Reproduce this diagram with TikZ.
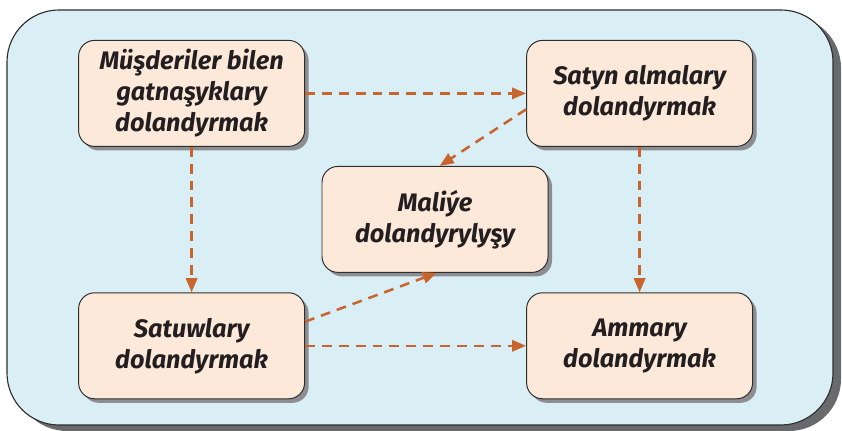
\documentclass[tikz,border=0pt]{standalone}
\usepackage{fontspec}
\setmainfont{Fira Sans}
\usetikzlibrary{arrows.meta,positioning,shadows}
\definecolor{panelblue}{HTML}{DAEFF5}
\definecolor{boxpeach}{HTML}{FDE9DA}
\definecolor{edgegrey}{HTML}{2E2E2E}
\definecolor{shadegrey}{HTML}{8C8E91}
\definecolor{flowora}{HTML}{C8642E}
\definecolor{inkgrey}{HTML}{231F20}
\tikzset{
  panel/.style={rounded corners=1.3cm, draw=edgegrey, line width=0.8pt,
                fill=panelblue, minimum width=20.65cm, minimum height=10.375cm,
                inner sep=0pt,
                drop shadow={shadow xshift=0.2cm, shadow yshift=-0.15cm,
                             fill=shadegrey!75!black, opacity=1}},
  unit/.style={rounded corners=0.4cm, draw=edgegrey, line width=0.7pt,
               fill=boxpeach, minimum width=5.65cm, minimum height=2.65cm,
               align=center, text=inkgrey,
               font=\fontsize{18}{22}\selectfont\bfseries\itshape,
               drop shadow={shadow xshift=0.1cm, shadow yshift=-0.1cm,
                            fill=shadegrey, opacity=1}},
  flow/.style={-{Triangle[length=10pt,width=8pt]}, line width=1.8pt,
               draw=flowora, dash pattern=on 7pt off 5pt},
}

\begin{document}
\begin{tikzpicture}
\useasboundingbox (0,0) rectangle (21.05,10.775);

% background panel
\node[panel] at (10.5,5.3375) (frame) {};

% units
\node[unit] at (4.79, 8.44) (crm)   {Müşderiler bilen\\gatnaşyklary\\dolandyrmak};
\node[unit] at (15.99,8.44) (buy)   {Satyn almalary\\dolandyrmak};
\node[unit] at (10.875,5.29) (fin)  {Maliýe\\dolandyrylyşy};
\node[unit] at (4.79, 2.13) (sales) {Satuwlary\\dolandyrmak};
\node[unit] at (15.99,2.13) (store) {Ammary\\dolandyrmak};

% flows
\draw[flow] (crm.east) -- (buy.west);
\draw[flow] (crm.south) -- (sales.north);
\draw[flow] (buy.188.6) -- (fin.85);
\draw[flow] (buy.south) -- (store.north);
\draw[flow] (sales.12) -- (fin.272);
\draw[flow] (sales.east) -- (store.west);
\end{tikzpicture}
\end{document}
